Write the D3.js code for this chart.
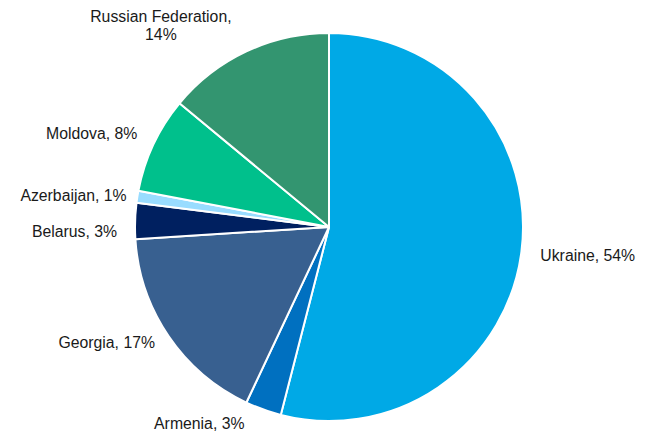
<!DOCTYPE html>
<html>
<head>
<meta charset="utf-8">
<script src="https://cdn.jsdelivr.net/npm/d3@7"></script>
<style>
  body { margin: 0; background: #fff; }
  text { font-family: "Liberation Sans", Arial, sans-serif; font-size: 15.8px; fill: #1a1a1a; }
</style>
</head>
<body>
<div id="chart"></div>
<script>
const countries = ["Ukraine", "Armenia", "Georgia", "Belarus", "Azerbaijan", "Moldova", "Russian Federation"];
const shares = [54, 3, 17, 3, 1, 8, 14];
const colors = ["#00a9e6", "#0070c0", "#386090", "#002060", "#99dcff", "#00c08c", "#339570"];

const data = countries.map((c, i) => ({ name: c, value: shares[i], color: colors[i] }));

let width = 652, height = 431,
    cx = 329, cy = 227,
    radius = 194;

let svg = d3.select("#chart").append("svg")
      .attr("width", width)
      .attr("height", height);

let g = svg.append("g").attr("transform", "translate(" + cx + "," + cy + ")");

let pie = d3.pie()
      .sort(null)
      .value(d => d.value);

let path = d3.arc()
      .outerRadius(radius)
      .innerRadius(0);

let label = d3.arc()
      .outerRadius(radius + 20)
      .innerRadius(radius + 20);

let arcs = pie(data);

g.selectAll("path")
  .data(arcs)
  .enter()
    .append("path")
    .attr("d", path)
    .attr("fill", d => d.data.color)
    .attr("stroke", "#fff")
    .attr("stroke-width", 2)
    .attr("stroke-linejoin", "round");

// label nudges, Excel moves some of them around
const nudge = {
  "Ukraine": [-1, 2],
  "Armenia": [-12, -4],
  "Georgia": [3, -4],
  "Belarus": [2, 12],
  "Azerbaijan": [9, 2],
  "Moldova": [2, -2],
  "Russian Federation": [-77, -16]
};

g.selectAll("text.lbl")
  .data(arcs)
  .enter()
    .append("text")
    .attr("class", "lbl")
    .each(function (d) {
      let c = label.centroid(d),
          n = nudge[d.data.name] || [0, 0],
          mid = (d.startAngle + d.endAngle) / 2,
          t = d3.select(this),
          x = c[0] + n[0],
          y = c[1] + n[1] + 5;

      if (d.data.name === "Russian Federation") {
        t.attr("text-anchor", "middle");
        t.append("tspan").attr("x", x).attr("y", y).text(d.data.name + ",");
        t.append("tspan").attr("x", x).attr("y", y + 18).text(d.data.value + "%");
      } else {
        t.attr("text-anchor", mid < Math.PI ? "start" : "end")
          .attr("x", x)
          .attr("y", y)
          .text(d.data.name + ", " + d.data.value + "%");
      }
    });
</script>
</body>
</html>
